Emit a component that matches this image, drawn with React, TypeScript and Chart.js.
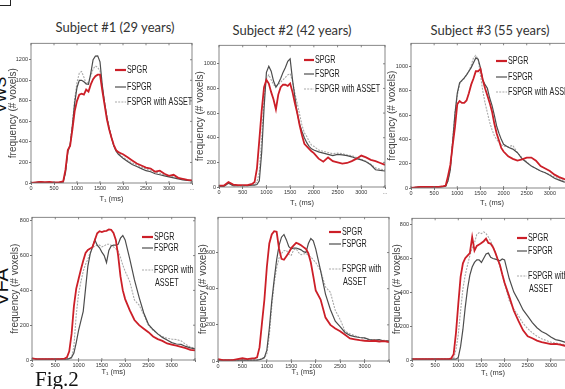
import React, { useEffect, useRef } from "react";
import { Chart, registerables } from "chart.js";

Chart.register(...registerables);

// ---------- data ----------
const T1_MS = [0, 100, 200, 300, 400, 500, 600, 700, 750, 800, 850, 900, 950, 1000, 1050, 1100, 1150, 1200, 1250, 1300, 1350, 1400, 1450, 1500, 1550, 1600, 1650, 1700, 1750, 1800, 1850, 1900, 1950, 2000, 2100, 2200, 2300, 2400, 2500, 2600, 2700, 2800, 2900, 3000, 3100, 3200, 3300, 3400, 3500];

const SERIES_LABELS = ["SPGR", "FSPGR", "FSPGR with ASSET"];
const SUBJECT_TITLES = ["Subject #1 (29 years)", "Subject #2 (42 years)", "Subject #3 (55 years)"];
const ROW_LABELS = ["VWS", "VFA"];
const X_TICKS = [0, 500, 1000, 1500, 2000, 2500, 3000, 3500];
const Y_TICKS = [0, 200, 400, 600, 800, 1000, 1200];

// top row
const TOP1_SPGR = [0, 5, 10, 8, 10, 5, 5, 15, 130, 320, 360, 520, 700, 800, 860, 870, 860, 910, 890, 960, 1010, 1040, 1055, 1055, 900, 760, 620, 520, 440, 370, 320, 300, 290, 280, 250, 220, 190, 170, 150, 140, 110, 120, 90, 70, 80, 50, 40, 30, 25];
const TOP1_FSPGR = [0, 5, 10, 5, 5, 5, 5, 10, 100, 300, 370, 560, 780, 930, 1000, 1000, 985, 965, 960, 1070, 1200, 1235, 1238, 1180, 950, 780, 640, 530, 440, 360, 310, 280, 260, 240, 210, 180, 160, 140, 120, 110, 90, 80, 70, 60, 50, 40, 30, 25, 20];
const TOP1_ASSET = [0, 5, 10, 5, 5, 5, 5, 10, 110, 310, 380, 580, 820, 980, 1070, 1085, 1030, 965, 985, 1040, 1110, 1140, 1125, 1090, 930, 780, 650, 540, 450, 370, 320, 290, 270, 250, 220, 195, 175, 155, 135, 120, 105, 95, 80, 70, 60, 50, 40, 30, 25];

const TOP2_SPGR = [10, 10, 40, 20, 15, 15, 15, 25, 40, 150, 380, 620, 810, 870, 840, 770, 710, 630, 750, 810, 830, 830, 820, 840, 770, 680, 600, 500, 420, 350, 330, 310, 290, 275, 230, 205, 240, 210, 200, 190, 195, 210, 230, 255, 240, 220, 210, 195, 180];
const TOP2_FSPGR = [5, 5, 30, 10, 10, 10, 10, 15, 15, 20, 50, 280, 640, 930, 980, 940, 860, 810, 840, 880, 930, 970, 1020, 1040, 870, 730, 600, 510, 450, 400, 360, 330, 310, 300, 285, 275, 265, 255, 265, 260, 255, 245, 230, 220, 205, 180, 140, 135, 130];
const TOP2_ASSET = [5, 5, 30, 10, 10, 10, 10, 15, 20, 40, 120, 400, 720, 880, 910, 870, 830, 815, 830, 850, 870, 890, 910, 920, 860, 760, 680, 590, 500, 440, 410, 370, 340, 330, 300, 290, 280, 270, 275, 270, 260, 255, 240, 225, 210, 185, 155, 145, 140];

const TOP3_SPGR = [0, 5, 10, 10, 10, 10, 10, 15, 20, 100, 190, 350, 500, 690, 715, 700, 700, 720, 780, 850, 900, 960, 960, 980, 890, 820, 760, 700, 630, 530, 450, 390, 330, 300, 260, 240, 225, 235, 250, 250, 225, 180, 160, 140, 110, 90, 75, 65, 55];
const TOP3_FSPGR = [0, 5, 10, 10, 10, 10, 10, 12, 15, 60, 150, 380, 610, 780, 865, 885, 905, 930, 960, 990, 1030, 1070, 1060, 990, 890, 850, 820, 740, 680, 600, 510, 450, 400, 360, 335, 320, 290, 240, 210, 180, 160, 140, 125, 105, 80, 65, 50, 45, 40];
const TOP3_ASSET = [0, 5, 10, 10, 10, 10, 10, 12, 15, 60, 160, 400, 620, 760, 855, 880, 900, 930, 960, 1010, 1070, 1090, 1060, 930, 800, 700, 620, 540, 480, 430, 400, 375, 355, 345, 340, 350, 290, 250, 215, 180, 160, 140, 125, 110, 90, 75, 60, 50, 45];

// bottom row (VFA)
const VFA1_SPGR = [10, 5, 5, 5, 5, 5, 5, 8, 15, 50, 150, 310, 410, 465, 520, 570, 615, 632, 640, 650, 690, 728, 740, 735, 740, 742, 750, 748, 730, 690, 600, 480, 400, 350, 285, 230, 200, 180, 160, 135, 120, 110, 95, 88, 82, 75, 68, 58, 55];
const VFA1_FSPGR = [10, 5, 5, 5, 5, 5, 5, 5, 5, 8, 15, 40, 100, 170, 225, 280, 410, 540, 610, 650, 690, 660, 645, 620, 600, 560, 630, 655, 660, 660, 665, 700, 715, 690, 580, 460, 360, 270, 205, 175, 150, 130, 115, 100, 92, 90, 78, 70, 64];
const VFA1_ASSET = [10, 5, 5, 5, 5, 5, 5, 5, 5, 8, 10, 80, 260, 380, 450, 510, 550, 580, 620, 645, 655, 660, 660, 650, 655, 665, 665, 660, 650, 640, 625, 590, 545, 510, 450, 345, 315, 260, 200, 170, 150, 135, 125, 120, 118, 110, 90, 75, 68];

const VFA2_SPGR = [10, 5, 5, 5, 10, 15, 10, 15, 15, 20, 75, 210, 340, 520, 650, 700, 718, 715, 620, 565, 560, 580, 600, 625, 640, 654, 648, 640, 630, 620, 595, 545, 470, 390, 340, 240, 200, 180, 165, 145, 125, 120, 115, 112, 110, 112, 108, 110, 105];
const VFA2_FSPGR = [5, 5, 5, 5, 5, 5, 5, 5, 5, 5, 8, 12, 20, 60, 180, 330, 450, 560, 640, 685, 700, 670, 632, 620, 625, 625, 620, 615, 605, 600, 650, 678, 665, 620, 500, 370, 285, 220, 190, 158, 142, 135, 130, 128, 118, 115, 118, 110, 112];
const VFA2_ASSET = [5, 5, 5, 5, 5, 5, 5, 5, 5, 5, 8, 10, 15, 40, 140, 300, 430, 515, 570, 595, 610, 612, 590, 585, 615, 620, 600, 588, 592, 595, 585, 575, 560, 545, 500, 410, 380, 280, 230, 165, 150, 140, 130, 125, 115, 118, 110, 115, 110];

const VFA3_SPGR = [5, 5, 5, 5, 5, 5, 5, 5, 5, 5, 10, 35, 160, 330, 490, 570, 600, 615, 630, 725, 645, 672, 680, 690, 700, 715, 690, 685, 665, 633, 595, 560, 505, 455, 375, 290, 230, 175, 140, 128, 114, 106, 100, 94, 95, 90, 84, 82, 80];
const VFA3_FSPGR = [5, 5, 5, 5, 5, 5, 5, 5, 5, 5, 5, 5, 5, 15, 80, 180, 310, 420, 500, 548, 575, 590, 590, 575, 600, 625, 630, 605, 598, 594, 590, 585, 595, 590, 480, 400, 350, 295, 258, 220, 190, 168, 155, 135, 120, 114, 105, 95, 90];
const VFA3_ASSET = [5, 5, 5, 5, 5, 5, 5, 5, 5, 5, 5, 10, 60, 150, 290, 420, 500, 560, 615, 660, 690, 740, 750, 745, 755, 745, 725, 700, 670, 633, 590, 550, 500, 450, 350, 300, 260, 215, 185, 160, 140, 125, 115, 105, 100, 95, 90, 88, 85];

// ---------- styles / layout ----------
const STYLES = [
  { color: "#cc1f28", width: 1.8, dash: [] as number[] },
  { color: "#4d4d4d", width: 1.2, dash: [] as number[] },
  { color: "#a9a9a9", width: 1.1, dash: [2, 1.2] },
];

const Y_AXIS_W = 30;
const X_AXIS_H = 21;
const PAD_T = 4;
const PAD_R = 4;

type PanelCfg = {
  L: number; R: number; T: number; B: number; yMax: number;
  series: number[][]; dots: boolean; yTitleOff: number; xTitleOff: number;
  legend: { lineX: number; lineLen: number; textX: number; rows: number[]; twoLine: boolean };
};

const PANELS: PanelCfg[] = [
  { L: 31, R: 192, T: 43, B: 183, yMax: 1360, series: [TOP1_SPGR, TOP1_FSPGR, TOP1_ASSET], dots: true, yTitleOff: 18, xTitleOff: 16,
    legend: { lineX: 115, lineLen: 11, textX: 127, rows: [70, 87, 102], twoLine: false } },
  { L: 219, R: 385, T: 45, B: 187, yMax: 1150, series: [TOP2_SPGR, TOP2_FSPGR, TOP2_ASSET], dots: true, yTitleOff: 19, xTitleOff: 16,
    legend: { lineX: 304, lineLen: 10, textX: 315, rows: [60, 74, 89], twoLine: false } },
  { L: 411, R: 573, T: 43, B: 188, yMax: 1190, series: [TOP3_SPGR, TOP3_FSPGR, TOP3_ASSET], dots: true, yTitleOff: 18.5, xTitleOff: 15,
    legend: { lineX: 496, lineLen: 11, textX: 508, rows: [61, 77, 92], twoLine: false } },
  { L: 32, R: 195, T: 217, B: 360, yMax: 820, series: [VFA1_SPGR, VFA1_FSPGR, VFA1_ASSET], dots: false, yTitleOff: 17, xTitleOff: 12,
    legend: { lineX: 142, lineLen: 11, textX: 154, rows: [237, 248, 270, 283], twoLine: true } },
  { L: 218, R: 389, T: 217, B: 361, yMax: 795, series: [VFA2_SPGR, VFA2_FSPGR, VFA2_ASSET], dots: false, yTitleOff: 14.5, xTitleOff: 11,
    legend: { lineX: 329, lineLen: 12, textX: 342, rows: [232, 244, 269, 282], twoLine: true } },
  { L: 412, R: 574, T: 218, B: 360, yMax: 835, series: [VFA3_SPGR, VFA3_FSPGR, VFA3_ASSET], dots: false, yTitleOff: 15, xTitleOff: 13,
    legend: { lineX: 517, lineLen: 10, textX: 528, rows: [238, 251, 276, 289], twoLine: true } },
];

const TICK_FONT = "'Liberation Sans Narrow', 'Liberation Sans', Arial, sans-serif";
const LABEL_FONT = "'Liberation Sans', Arial, sans-serif";

function Panel({ cfg }: { cfg: PanelCfg }) {
  const ref = useRef<HTMLCanvasElement>(null);
  const ox = cfg.L - Y_AXIS_W;
  const oy = cfg.T - PAD_T;
  const w = Y_AXIS_W + (cfg.R - cfg.L) + PAD_R;
  const h = PAD_T + (cfg.B - cfg.T) + X_AXIS_H;

  useEffect(() => {
    if (!ref.current) return;
    const lg = cfg.legend;
    const labels = lg.twoLine ? ["SPGR", "FSPGR", "FSPGR with", "ASSET"] : SERIES_LABELS;

    const legendPlugin = {
      id: "insetLegend",
      afterDatasetsDraw(chart: any) {
        const ctx = chart.ctx as CanvasRenderingContext2D;
        ctx.save();
        STYLES.forEach((st, i) => {
          const y = lg.rows[i] - oy;
          ctx.strokeStyle = st.color;
          ctx.lineWidth = i === 0 ? 2.2 : st.width;
          ctx.setLineDash(st.dash);
          ctx.beginPath();
          ctx.moveTo(lg.lineX - ox, y);
          ctx.lineTo(lg.lineX + lg.lineLen - ox, y);
          ctx.stroke();
        });
        ctx.setLineDash([]);
        ctx.fillStyle = "#222";
        ctx.font = `10px ${LABEL_FONT}`;
        ctx.textBaseline = "middle";
        labels.forEach((t, i) => {
          ctx.save();
          ctx.translate(lg.textX - ox + (i === 3 ? 1 : 0), lg.rows[i] - oy);
          ctx.scale(0.72, 1);
          ctx.fillText(t, 0, 0);
          ctx.restore();
        });
        ctx.restore();
      },
    };

    const boxPlugin = {
      id: "box",
      afterDraw(chart: any) {
        const { ctx, chartArea: a, scales } = chart;
        ctx.save();
        ctx.strokeStyle = "#6a6a6a";
        ctx.lineWidth = 0.8;
        ctx.strokeRect(a.left, a.top, a.right - a.left, a.bottom - a.top);
        ctx.beginPath();
        scales.x.ticks.forEach((t: any) => {
          const px = scales.x.getPixelForValue(t.value);
          ctx.moveTo(px, a.top);
          ctx.lineTo(px, a.top + 2);
          ctx.moveTo(px, a.bottom);
          ctx.lineTo(px, a.bottom - 2);
        });
        scales.y.ticks.forEach((t: any) => {
          const py = scales.y.getPixelForValue(t.value);
          ctx.moveTo(a.right, py);
          ctx.lineTo(a.right - 2, py);
        });
        ctx.stroke();
        ctx.restore();
      },
    };

    const chart = new Chart(ref.current, {
      type: "line",
      data: {
        datasets: cfg.series.map((arr, i) => ({
          label: SERIES_LABELS[i],
          data: T1_MS.map((x, j) => ({ x, y: arr[j] })),
          borderColor: STYLES[i].color,
          borderWidth: STYLES[i].width,
          borderDash: STYLES[i].dash,
          pointRadius: 0,
          tension: 0,
          fill: false,
        })),
      },
      options: {
        responsive: false,
        animation: false,
        events: [],
        layout: { padding: { left: 0, top: PAD_T, right: PAD_R, bottom: 0 }, autoPadding: false } as any,
        plugins: { legend: { display: false }, tooltip: { enabled: false } },
        scales: {
          x: {
            type: "linear",
            min: 0,
            max: 3500,
            afterBuildTicks: (s: any) => {
              s.ticks = X_TICKS.map((v) => ({ value: v }));
            },
            afterFit: (s: any) => {
              s.height = X_AXIS_H;
            },
            ticks: {
              autoSkip: false,
              maxRotation: 0,
              padding: 0,
              color: "#333",
              font: { size: 5.5, family: TICK_FONT },
              callback: (v: any) => (v === 3500 ? (cfg.dots ? "..." : "") : String(v)),
            },
            grid: { display: true, drawOnChartArea: false, drawTicks: true, tickLength: 2, color: "#777" },
            border: { display: false },
            title: {
              display: true,
              text: "T₁ (ms)",
              color: "#333",
              font: { size: 7.5, family: LABEL_FONT },
              padding: { top: 0, bottom: X_AXIS_H - cfg.xTitleOff - 4.5 },
            },
          },
          y: {
            type: "linear",
            min: 0,
            max: cfg.yMax,
            afterBuildTicks: (s: any) => {
              s.ticks = Y_TICKS.filter((v) => v <= cfg.yMax).map((v) => ({ value: v }));
            },
            afterFit: (s: any) => {
              s.width = Y_AXIS_W;
            },
            ticks: {
              autoSkip: false,
              padding: 1,
              color: "#333",
              font: { size: 5.5, family: TICK_FONT },
              callback: (v: any) => String(v),
            },
            grid: { display: true, drawOnChartArea: false, drawTicks: true, tickLength: 2, color: "#777" },
            border: { display: false },
            title: {
              display: true,
              text: "frequency (# voxels)",
              color: "#444",
              font: { size: 10, family: LABEL_FONT },
              padding: { top: Y_AXIS_W - cfg.yTitleOff - 6, bottom: 0 },
            },
          },
        },
      },
      plugins: [legendPlugin, boxPlugin],
    });
    return () => chart.destroy();
  }, []);

  return (
    <div style={{ position: "absolute", left: ox, top: oy, width: w, height: h }}>
      <canvas ref={ref} width={w} height={h} style={{ width: w, height: h, display: "block" }} />
    </div>
  );
}

const TITLE_POS = [
  { cx: 115, cy: 27 },
  { cx: 292, cy: 30 },
  { cx: 490, cy: 29.5 },
];

export default function App() {
  return (
    <div style={{ position: "fixed", left: 0, top: 0, width: 565, height: 389, overflow: "hidden", background: "#fff" }}>
      <div style={{ position: "absolute", left: -20, top: -20, width: 31, height: 26, border: "1.5px solid #222", boxSizing: "border-box" }} />
      {SUBJECT_TITLES.map((t, i) => (
        <div
          key={t}
          style={{
            position: "absolute",
            left: TITLE_POS[i].cx - 80,
            top: TITLE_POS[i].cy - 9,
            width: 160,
            height: 18,
            lineHeight: "18px",
            textAlign: "center",
            fontFamily: "Lato, 'Open Sans', sans-serif",
            fontSize: 13,
            color: "#333",
            whiteSpace: "nowrap",
          }}
        >
          {t}
        </div>
      ))}
      {ROW_LABELS.map((t, i) => (
        <div
          key={t}
          style={{
            position: "absolute",
            left: 1 - 30,
            top: (i === 0 ? 95 : 287) - 10,
            width: 60,
            height: 20,
            lineHeight: "20px",
            textAlign: "center",
            fontFamily: LABEL_FONT,
            fontSize: i === 0 ? 16 : 20,
            color: "#111",
            transform: "rotate(-90deg)",
            whiteSpace: "nowrap",
          }}
        >
          {t}
        </div>
      ))}
      {PANELS.map((p, i) => (
        <Panel key={i} cfg={p} />
      ))}
      <div
        style={{
          position: "absolute",
          left: 35,
          top: 368,
          fontFamily: "'Liberation Serif', 'DejaVu Serif', serif",
          fontSize: 21,
          lineHeight: "22px",
          color: "#111",
          whiteSpace: "nowrap",
        }}
      >
        Fig.2
      </div>
    </div>
  );
}
